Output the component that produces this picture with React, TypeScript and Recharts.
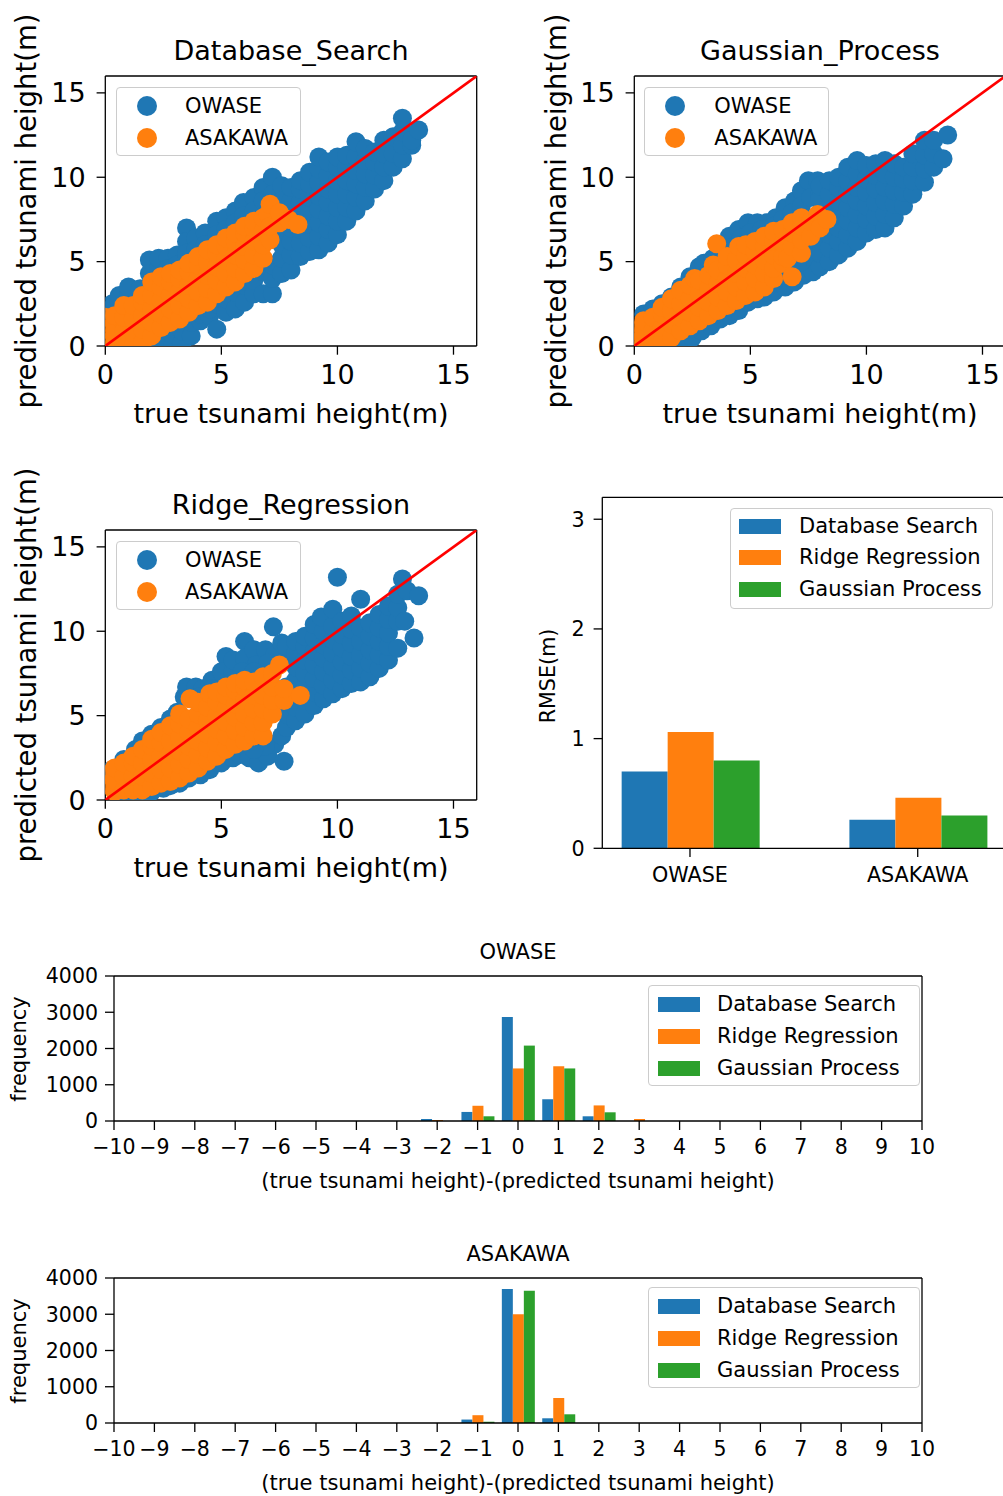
import React from 'react';
import { ScatterChart, Scatter, XAxis, YAxis, BarChart, Bar, ReferenceLine } from 'recharts';

const FONT = '"DejaVu Sans", Verdana, sans-serif';
const BLUE = '#1f77b4';
const ORANGE = '#ff7f0e';
const GREEN = '#2ca02c';

// ---------- scatter data: [true height, predicted height] ----------
const scatterTicks = [0, 5, 10, 15];
const scatterMax = 16;
const diagLine = [[0, 0], [16, 16]];
const scatterSeriesNames = ['OWASE', 'ASAKAWA'];

const dsOwase = [
  [0.1, 2.1], [0.3, 2.5], [0.6, 2.6], [0.6, 3.0], [1.0, 3.0], [1.0, 3.5], [1.5, 3.4], [1.9, 4.3], [1.9, 5.1],
  [2.3, 4.6], [2.3, 5.2], [2.7, 5.2], [2.7, 4.6], [3.1, 5.4], [3.1, 4.8], [3.5, 7.0], [3.5, 6.2], [3.5, 5.5],
  [3.9, 6.4], [3.9, 5.7], [4.3, 6.7], [4.3, 6.0], [4.8, 7.4], [4.8, 6.6], [5.2, 7.6], [5.2, 6.9], [5.6, 8.0],
  [5.6, 7.3], [5.95, 8.5], [5.95, 7.7], [6.4, 8.8], [6.4, 8.0], [6.8, 9.4], [6.8, 8.6], [7.2, 10.0], [7.2, 9.0],
  [7.6, 9.5], [7.6, 8.6],
  [2.1, 0.0], [2.1, 0.3], [2.5, 0.1], [2.5, 0.5], [2.9, 0.0], [2.9, 0.7], [3.3, 0.2], [3.3, 0.9], [3.7, 0.6],
  [3.7, 1.4], [4.1, 1.5], [4.1, 1.9], [4.5, 1.8], [4.5, 2.2], [4.8, 1.0], [4.8, 2.5], [5.2, 2.0], [5.2, 2.8],
  [5.6, 2.2], [5.6, 3.2], [6.0, 2.6], [6.0, 3.6], [6.4, 3.1], [6.4, 3.9], [6.8, 3.1], [6.8, 4.4], [7.2, 3.1],
  [7.2, 4.0], [7.2, 4.8], [7.6, 4.3], [7.6, 5.2], [7.6, 6.0], [7.6, 6.8],
  [8.0, 4.5], [8.0, 5.4], [8.0, 6.2], [8.0, 7.0], [8.0, 7.8], [8.0, 8.6], [8.0, 9.4],
  [8.4, 5.3], [8.4, 6.1], [8.4, 6.9], [8.4, 7.7], [8.4, 8.5], [8.4, 9.3], [8.4, 9.8],
  [8.8, 5.6], [8.8, 6.4], [8.8, 7.2], [8.8, 8.0], [8.8, 8.8], [8.8, 9.6], [8.8, 10.3],
  [9.2, 5.7], [9.2, 6.5], [9.2, 7.3], [9.2, 8.1], [9.2, 8.9], [9.2, 9.7], [9.2, 10.5], [9.2, 11.2],
  [9.6, 6.1], [9.6, 6.9], [9.6, 7.7], [9.6, 8.5], [9.6, 9.3], [9.6, 10.1], [9.6, 10.9],
  [10.0, 6.6], [10.0, 7.4], [10.0, 8.2], [10.0, 9.0], [10.0, 9.8], [10.0, 10.6], [10.0, 11.2],
  [10.4, 7.4], [10.4, 8.2], [10.4, 9.0], [10.4, 9.8], [10.4, 10.6], [10.4, 11.3],
  [10.8, 8.0], [10.8, 8.8], [10.8, 9.6], [10.8, 10.4], [10.8, 11.2], [10.8, 12.1],
  [11.2, 8.6], [11.2, 9.4], [11.2, 10.2], [11.2, 11.0], [11.2, 11.7],
  [11.6, 9.3], [11.6, 10.1], [11.6, 10.9], [11.6, 11.5],
  [12.0, 9.8], [12.0, 10.6], [12.0, 11.4], [12.0, 12.2],
  [12.4, 10.6], [12.4, 11.4], [12.4, 12.4],
  [12.8, 11.1], [12.8, 11.9], [12.8, 12.7], [12.8, 13.5],
  [13.2, 11.9], [13.2, 12.2], [13.5, 12.8],
];

const dsAsakawa = [
  [0.0, 0.2], [0.0, 1.0], [0.0, 1.7], [0.4, 0.1], [0.4, 0.9], [0.4, 1.8],
  [0.8, 0.1], [0.8, 0.9], [0.8, 1.7], [0.8, 2.4], [1.2, 0.0], [1.2, 0.8], [1.2, 1.6], [1.2, 2.4],
  [1.6, 0.2], [1.6, 1.0], [1.6, 1.8], [1.6, 2.6], [1.6, 3.0],
  [2.0, 0.6], [2.0, 1.4], [2.0, 2.2], [2.0, 3.0], [2.0, 3.8],
  [2.4, 1.1], [2.4, 1.9], [2.4, 2.7], [2.4, 3.5], [2.4, 4.1],
  [2.8, 1.4], [2.8, 2.2], [2.8, 3.0], [2.8, 3.8], [2.8, 4.3],
  [3.2, 1.6], [3.2, 2.4], [3.2, 3.2], [3.2, 4.0], [3.2, 4.5],
  [3.6, 2.0], [3.6, 2.8], [3.6, 3.6], [3.6, 4.4], [3.6, 4.9],
  [4.0, 2.4], [4.0, 3.2], [4.0, 4.0], [4.0, 4.8], [4.0, 5.3],
  [4.4, 2.6], [4.4, 3.4], [4.4, 4.2], [4.4, 5.0], [4.4, 5.7],
  [4.8, 3.1], [4.8, 3.9], [4.8, 4.7], [4.8, 5.5], [4.8, 6.0],
  [5.2, 3.5], [5.2, 4.3], [5.2, 5.1], [5.2, 5.9], [5.2, 6.4],
  [5.6, 3.8], [5.6, 4.6], [5.6, 5.4], [5.6, 6.2], [5.6, 6.7],
  [6.0, 4.3], [6.0, 5.1], [6.0, 5.9], [6.0, 6.7], [6.0, 7.1],
  [6.4, 4.6], [6.4, 5.4], [6.4, 6.2], [6.4, 7.0], [6.4, 7.4],
  [6.8, 5.2], [6.8, 6.0], [6.8, 6.8], [6.8, 7.6],
  [7.0, 7.8], [7.1, 6.3], [7.1, 7.1], [7.1, 8.4],
  [7.5, 7.3], [7.5, 7.9], [7.9, 7.5], [8.3, 7.2],
];

const gpOwase = [
  [0.4, 1.9], [0.8, 2.2], [1.2, 2.5], [1.6, 2.9], [2.0, 3.5], [2.4, 4.1], [2.8, 4.7], [3.0, 4.9], [3.4, 5.2],
  [3.8, 6.0], [4.1, 6.5], [4.5, 6.9], [4.9, 7.3], [5.3, 7.3], [5.7, 7.3], [6.1, 7.6], [6.5, 8.2], [6.9, 8.6],
  [7.2, 9.2], [7.5, 9.8], [7.9, 9.8], [4.1, 5.8], [4.6, 6.4], [5.0, 6.7], [5.5, 6.9], [6.0, 7.1], [6.4, 7.5],
  [6.8, 7.9], [7.2, 8.3], [7.6, 8.8], [8.0, 9.0],
  [1.0, 0.3], [1.5, 0.1], [2.0, 0.3], [2.5, 0.5], [2.9, 0.9], [3.3, 1.2], [3.7, 1.6], [4.1, 1.8], [4.5, 2.1],
  [4.9, 2.6], [5.3, 2.8], [5.6, 2.9], [6.0, 3.2], [6.5, 3.5], [6.9, 3.8], [7.3, 4.2], [7.7, 4.4], [2.4, 1.0],
  [3.0, 1.5], [3.5, 1.9], [4.0, 2.3], [4.5, 2.7], [5.0, 3.1], [5.5, 3.4], [6.0, 3.8], [6.4, 4.2], [6.8, 4.7],
  [7.2, 5.0], [7.6, 5.3], [7.6, 6.0], [7.2, 5.8],
  [8.0, 4.7], [8.0, 5.5], [8.0, 6.3], [8.0, 7.1], [8.0, 7.9], [8.0, 8.7], [8.0, 9.5],
  [8.4, 5.0], [8.4, 5.8], [8.4, 6.6], [8.4, 7.4], [8.4, 8.2], [8.4, 9.0], [8.4, 9.8],
  [8.8, 5.4], [8.8, 6.2], [8.8, 7.0], [8.8, 7.8], [8.8, 8.6], [8.8, 9.4], [8.8, 10.0],
  [9.2, 5.8], [9.2, 6.6], [9.2, 7.4], [9.2, 8.2], [9.2, 9.0], [9.2, 9.8], [9.2, 10.6],
  [9.6, 6.2], [9.6, 7.0], [9.6, 7.8], [9.6, 8.6], [9.6, 9.4], [9.6, 10.2], [9.6, 11.0],
  [10.0, 6.7], [10.0, 7.5], [10.0, 8.3], [10.0, 9.1], [10.0, 9.9], [10.0, 10.7],
  [10.4, 6.9], [10.4, 7.7], [10.4, 8.5], [10.4, 9.3], [10.4, 10.1], [10.4, 10.8],
  [10.8, 7.0], [10.8, 7.8], [10.8, 8.6], [10.8, 9.4], [10.8, 10.2], [10.8, 11.0],
  [11.2, 7.6], [11.2, 8.4], [11.2, 9.2], [11.2, 10.0], [11.2, 10.8],
  [11.6, 8.3], [11.6, 9.1], [11.6, 9.9], [11.6, 10.6],
  [12.0, 9.0], [12.0, 9.8], [12.0, 10.6], [12.0, 11.4],
  [12.5, 9.7], [12.5, 10.5], [12.5, 11.3], [12.5, 12.2],
  [12.9, 10.6], [12.9, 11.4], [12.9, 12.2], [13.3, 11.1], [13.5, 12.5],
];

const gpAsakawa = [
  [0.0, 0.2], [0.0, 0.9], [0.4, 0.1], [0.4, 0.9], [0.4, 1.5], [0.8, 0.1], [0.8, 0.9], [0.8, 1.7],
  [1.2, 0.3], [1.2, 1.1], [1.2, 1.9], [1.2, 2.3], [1.6, 0.5], [1.6, 1.3], [1.6, 2.1], [1.6, 2.8],
  [2.0, 0.9], [2.0, 1.7], [2.0, 2.5], [2.0, 3.3], [2.4, 1.2], [2.4, 2.0], [2.4, 2.8], [2.4, 3.6], [2.6, 4.0],
  [2.8, 1.5], [2.8, 2.3], [2.8, 3.1], [2.8, 3.9], [3.2, 1.8], [3.2, 2.6], [3.2, 3.4], [3.2, 4.2], [3.4, 4.8],
  [3.6, 2.1], [3.6, 2.9], [3.6, 3.7], [3.6, 4.5], [3.55, 6.06],
  [4.0, 2.4], [4.0, 3.2], [4.0, 4.0], [4.0, 4.8], [4.0, 5.3],
  [4.4, 2.7], [4.4, 3.5], [4.4, 4.3], [4.4, 5.1], [4.5, 5.9],
  [4.8, 3.0], [4.8, 3.8], [4.8, 4.6], [4.8, 5.4], [4.8, 6.0],
  [5.2, 3.2], [5.2, 4.0], [5.2, 4.8], [5.2, 5.6], [5.2, 6.2],
  [5.6, 3.5], [5.6, 4.3], [5.6, 5.1], [5.6, 5.9], [5.6, 6.5],
  [6.0, 4.0], [6.0, 4.6], [6.0, 5.4], [6.0, 6.2], [6.0, 6.8],
  [6.4, 4.9], [6.4, 5.3], [6.4, 6.1], [6.4, 6.9], [6.6, 5.2], [6.8, 4.1], [6.8, 5.9], [6.8, 6.7], [6.8, 7.3],
  [7.2, 5.5], [7.2, 6.3], [7.2, 7.1], [7.2, 7.6], [7.6, 6.5], [7.6, 7.4], [7.9, 7.8], [8.0, 7.0], [8.3, 7.5],
];

const rrOwase = [
  [0.3, 1.8], [0.8, 2.4], [1.3, 3.0], [1.6, 3.5], [2.0, 3.9], [2.4, 4.3], [2.8, 4.8], [3.1, 5.2], [3.4, 6.1],
  [3.5, 6.7], [3.9, 6.7], [4.2, 6.6], [4.6, 7.1], [5.2, 8.5], [5.0, 7.6], [5.5, 7.6], [5.5, 8.3], [6.0, 9.4],
  [6.0, 8.4], [6.4, 8.9], [6.5, 8.0], [6.9, 8.9], [7.24, 10.26], [7.3, 8.6], [7.6, 9.3], [7.0, 8.1], [4.0, 6.1],
  [4.6, 6.6], [5.9, 7.6], [6.4, 7.6],
  [0.9, 0.0], [1.1, 0.2], [1.5, 0.3], [2.0, 0.5], [2.5, 0.7], [2.8, 0.85], [3.2, 1.0], [3.6, 1.3], [4.1, 1.5],
  [4.5, 1.8], [5.0, 2.2], [5.5, 2.5], [5.8, 2.7], [6.2, 2.5], [6.6, 2.2], [7.0, 2.6], [7.7, 2.3], [7.3, 3.3],
  [7.6, 3.8], [6.9, 3.2], [6.4, 3.0],
  [7.8, 4.3], [7.8, 5.1], [7.8, 5.9], [7.8, 6.7], [7.8, 8.3], [7.8, 9.1],
  [8.2, 4.7], [8.2, 5.5], [8.2, 6.3], [8.2, 7.1], [8.2, 7.9], [8.2, 8.7], [8.2, 9.4],
  [8.6, 5.1], [8.6, 5.9], [8.6, 6.7], [8.6, 7.5], [8.6, 8.3], [8.6, 9.1], [8.6, 9.7],
  [9.0, 5.6], [9.0, 6.4], [9.0, 7.2], [9.0, 8.0], [9.0, 8.8], [9.0, 9.6], [9.0, 10.4],
  [9.4, 6.0], [9.4, 6.8], [9.4, 7.6], [9.4, 8.4], [9.4, 9.2], [9.4, 10.0], [9.3, 10.85],
  [9.8, 6.3], [9.8, 7.1], [9.8, 7.9], [9.8, 8.7], [9.8, 9.5], [9.8, 10.3], [9.8, 11.3], [10.0, 13.2],
  [10.2, 6.6], [10.2, 7.4], [10.2, 8.2], [10.2, 9.0], [10.2, 9.8], [10.2, 10.6],
  [10.6, 6.9], [10.6, 7.7], [10.6, 8.5], [10.6, 9.3], [10.6, 10.1], [10.6, 10.9],
  [11.0, 7.0], [11.0, 7.8], [11.0, 8.6], [11.0, 9.4], [11.0, 10.2], [11.0, 11.9],
  [11.4, 7.3], [11.4, 8.1], [11.4, 8.9], [11.4, 9.7], [11.4, 10.5],
  [11.8, 7.8], [11.8, 8.6], [11.8, 9.4], [11.8, 10.2], [11.8, 11.0],
  [12.2, 8.3], [12.2, 9.1], [12.2, 9.9], [12.2, 10.7], [12.2, 11.5],
  [12.6, 9.0], [12.6, 10.6], [12.6, 11.4], [12.6, 12.2],
  [12.9, 10.6], [12.8, 13.1], [13.0, 12.4], [13.3, 9.6], [13.5, 12.1],
];

const rrAsakawa = [
  [0.0, 0.9], [0.0, 1.5], [0.4, 0.5], [0.4, 1.2], [0.4, 1.9], [0.8, 0.6], [0.8, 1.4], [0.8, 2.2],
  [1.2, 0.6], [1.2, 1.4], [1.2, 2.2], [1.2, 2.6], [1.6, 0.6], [1.6, 1.4], [1.6, 2.2], [1.6, 3.0],
  [2.0, 0.8], [2.0, 1.6], [2.0, 2.4], [2.0, 3.2], [2.0, 3.6],
  [2.4, 1.0], [2.4, 1.8], [2.4, 2.6], [2.4, 3.4], [2.4, 4.0],
  [2.8, 1.1], [2.8, 1.9], [2.8, 2.7], [2.8, 3.5], [2.8, 4.4],
  [3.2, 1.3], [3.2, 2.1], [3.2, 2.9], [3.2, 3.7], [3.2, 4.5], [3.2, 5.1],
  [3.6, 1.6], [3.6, 2.4], [3.6, 3.2], [3.6, 4.0], [3.6, 4.8], [3.65, 6.0],
  [4.0, 1.9], [4.0, 2.7], [4.0, 3.5], [4.0, 4.3], [4.0, 5.1], [4.0, 5.8],
  [4.4, 2.3], [4.4, 3.1], [4.4, 3.9], [4.4, 4.7], [4.4, 5.5], [4.5, 6.3],
  [4.8, 2.6], [4.8, 3.4], [4.8, 4.2], [4.8, 5.0], [4.8, 5.8], [4.8, 6.4],
  [5.2, 3.0], [5.2, 3.8], [5.2, 4.6], [5.2, 5.4], [5.2, 6.2], [5.2, 6.7],
  [5.6, 3.3], [5.6, 4.1], [5.6, 4.9], [5.6, 5.7], [5.6, 6.5], [5.6, 6.9],
  [6.0, 3.5], [6.0, 4.3], [6.0, 5.1], [6.0, 5.9], [6.0, 6.7], [6.0, 7.1],
  [6.4, 3.8], [6.4, 4.6], [6.4, 5.4], [6.4, 6.2], [6.4, 7.0],
  [6.8, 3.8], [6.8, 4.6], [6.8, 5.4], [6.8, 6.2], [6.8, 7.3],
  [7.2, 5.1], [7.2, 5.9], [7.2, 6.7], [7.2, 7.5], [7.5, 8.0], [7.7, 5.9], [7.7, 6.6], [8.4, 6.2],
];

// ---------- RMSE bar chart ----------
const rmseCategories = ['OWASE', 'ASAKAWA'];
const rmseTicks = [0, 1, 2, 3];
const rmseXDomain = [-0.385, 1.385];
const rmseYMax = 3.2;
const methodNames = ['Database Search', 'Ridge Regression', 'Gaussian Process'];
const rmseDatabaseSearch = [0.70, 0.26];
const rmseRidgeRegression = [1.06, 0.46];
const rmseGaussianProcess = [0.80, 0.30];

// ---------- error histograms ----------
const histBins = [-10, -9, -8, -7, -6, -5, -4, -3, -2, -1, 0, 1, 2, 3, 4, 5, 6, 7, 8, 9, 10];
const histYTicks = [0, 1000, 2000, 3000, 4000];
const histYMax = 4000;
const owaseHistDS = [0, 0, 0, 0, 0, 0, 0, 0, 55, 250, 2870, 600, 130, 0, 0, 0, 0, 0, 0, 0, 0];
const owaseHistRR = [0, 0, 0, 0, 0, 0, 0, 0, 28, 420, 1450, 1510, 430, 55, 0, 0, 0, 0, 0, 0, 0];
const owaseHistGP = [0, 0, 0, 0, 0, 0, 0, 0, 0, 130, 2080, 1450, 240, 0, 0, 0, 0, 0, 0, 0, 0];
const asakawaHistDS = [0, 0, 0, 0, 0, 0, 0, 0, 0, 95, 3700, 130, 0, 0, 0, 0, 0, 0, 0, 0, 0];
const asakawaHistRR = [0, 0, 0, 0, 0, 0, 0, 0, 0, 215, 3000, 690, 0, 0, 0, 0, 0, 0, 0, 0, 0];
const asakawaHistGP = [0, 0, 0, 0, 0, 0, 0, 0, 0, 35, 3650, 240, 0, 0, 0, 0, 0, 0, 0, 0, 0];

// ---------- helpers ----------
const toXY = (pts: number[][]) => pts.map(([x, y]) => ({ x, y }));
const axisLine = { stroke: '#000', strokeWidth: 1.3 };
const tickLine = { stroke: '#000', strokeWidth: 1.3 };
const tickStyle = (size: number) => ({ fill: '#000', fontSize: size, fontFamily: FONT });
const minus = (v: number) => (v < 0 ? '\u2212' + Math.abs(v) : String(v));

const dot = (color: string) => (p: any) => <circle cx={p.cx} cy={p.cy} r={9.5} fill={color} />;
const noShape = () => <g />;

function Txt({ x, y, size, rotate, children }: any) {
  return (
    <div
      style={{
        position: 'absolute',
        left: x,
        top: y,
        transform: `translate(-50%, -50%)${rotate ? ' rotate(-90deg)' : ''}`,
        fontFamily: FONT,
        fontSize: size,
        lineHeight: 1,
        whiteSpace: 'nowrap',
        color: '#000',
      }}
    >
      {children}
    </div>
  );
}

function LegendBox({ left, top, width, height, rows, items, kind, markX, textX }: any) {
  return (
    <div>
      <div
        style={{
          position: 'absolute', left, top, width, height, boxSizing: 'border-box',
          border: '1.3px solid #cccccc', borderRadius: 4, background: 'rgba(255,255,255,0.8)',
        }}
      />
      {items.map((it: any, i: number) => (
        <React.Fragment key={it.name}>
          {kind === 'circle' ? (
            <div style={{ position: 'absolute', left: markX - 10, top: rows[i] - 10, width: 20, height: 20, borderRadius: '50%', background: it.color }} />
          ) : (
            <div style={{ position: 'absolute', left: markX, top: rows[i] - 7.5, width: 42, height: 15, background: it.color }} />
          )}
          <div style={{ position: 'absolute', left: textX, top: rows[i], transform: 'translateY(-50%)', fontFamily: FONT, fontSize: 21, lineHeight: 1, whiteSpace: 'nowrap', color: '#000' }}>
            {it.name}
          </div>
        </React.Fragment>
      ))}
    </div>
  );
}

const PLOT_W = 371.4;

function ScatterPanel({ left, top, plotLeft, owase, asakawa }: any) {
  return (
    <div style={{ position: 'absolute', left, top, width: 500, height: 440 }}>
      <ScatterChart width={500} height={440} margin={{ top: 76, right: 500 - plotLeft - PLOT_W, bottom: 0, left: 0 }}>
        <XAxis type="number" dataKey="x" domain={[0, scatterMax]} ticks={scatterTicks} interval={0} allowDataOverflow
          height={94} tickSize={8.7} tickMargin={10} tick={tickStyle(27)} tickLine={tickLine} axisLine={axisLine} />
        <YAxis type="number" dataKey="y" domain={[0, scatterMax]} ticks={scatterTicks} interval={0} allowDataOverflow
          width={plotLeft} tickSize={8.7} tickMargin={11} tick={tickStyle(27)} tickLine={tickLine} axisLine={axisLine} />
        <Scatter data={toXY(owase)} fill={BLUE} shape={dot(BLUE)} isAnimationActive={false} />
        <Scatter data={toXY(asakawa)} fill={ORANGE} shape={dot(ORANGE)} isAnimationActive={false} />
        <Scatter data={toXY(diagLine)} line={{ stroke: '#ff0000', strokeWidth: 2.6 }} shape={noShape} isAnimationActive={false} />
        <ReferenceLine y={scatterMax} stroke="#000" strokeWidth={1.3} />
        <ReferenceLine x={scatterMax} stroke="#000" strokeWidth={1.3} />
      </ScatterChart>
    </div>
  );
}

function HistPanel({ top, ds, rr, gp }: any) {
  const data = histBins.map((b, i) => ({ bin: b, ds: ds[i], rr: rr[i], gp: gp[i] }));
  return (
    <div style={{ position: 'absolute', left: 0, top, width: 1003, height: 270 }}>
      <BarChart width={1003} height={270} data={data} margin={{ top: 46, right: 81, bottom: 0, left: 0 }} barCategoryGap="10%" barGap={0}>
        <XAxis type="number" dataKey="bin" domain={[histBins[0], histBins[histBins.length - 1]]} ticks={histBins} interval={0} allowDataOverflow tickFormatter={minus}
          height={79} tickSize={9} tickMargin={9} tick={tickStyle(20.5)} tickLine={tickLine} axisLine={axisLine} />
        <YAxis type="number" domain={[0, histYMax]} ticks={histYTicks} interval={0} allowDataOverflow
          width={114} tickSize={9} tickMargin={7} tick={tickStyle(20.5)} tickLine={tickLine} axisLine={axisLine} />
        <Bar dataKey="ds" fill={BLUE} isAnimationActive={false} />
        <Bar dataKey="rr" fill={ORANGE} isAnimationActive={false} />
        <Bar dataKey="gp" fill={GREEN} isAnimationActive={false} />
        <ReferenceLine y={histYMax} stroke="#000" strokeWidth={1.3} />
        <ReferenceLine x={histBins[histBins.length - 1]} stroke="#000" strokeWidth={1.3} />
      </BarChart>
    </div>
  );
}

function RmsePanel() {
  const data = rmseCategories.map((c, i) => ({ x: i, ds: rmseDatabaseSearch[i], rr: rmseRidgeRegression[i], gp: rmseGaussianProcess[i] }));
  return (
    <div style={{ position: 'absolute', left: 520, top: 454, width: 500, height: 446 }}>
      <BarChart width={500} height={446} data={data} margin={{ top: 43.3, right: 14.6, bottom: 0, left: 0 }} barCategoryGap="20%" barGap={0}>
        <XAxis type="number" dataKey="x" domain={rmseXDomain} ticks={[0, 1]} interval={0} allowDataOverflow
          tickFormatter={(v: number) => rmseCategories[v]} height={51.7} tickSize={8.7} tickMargin={10}
          tick={tickStyle(20.7)} tickLine={tickLine} axisLine={axisLine} />
        <YAxis type="number" domain={[0, rmseYMax]} ticks={rmseTicks} interval={0} allowDataOverflow
          width={82.3} tickSize={8.7} tickMargin={9} tick={tickStyle(20.7)} tickLine={tickLine} axisLine={axisLine} />
        <Bar dataKey="ds" fill={BLUE} isAnimationActive={false} />
        <Bar dataKey="rr" fill={ORANGE} isAnimationActive={false} />
        <Bar dataKey="gp" fill={GREEN} isAnimationActive={false} />
        <ReferenceLine y={rmseYMax} stroke="#000" strokeWidth={1.3} />
      </BarChart>
    </div>
  );
}

const scatterLegendItems = [
  { name: scatterSeriesNames[0], color: BLUE },
  { name: scatterSeriesNames[1], color: ORANGE },
];
const methodLegendItems = [
  { name: methodNames[0], color: BLUE },
  { name: methodNames[1], color: ORANGE },
  { name: methodNames[2], color: GREEN },
];

export default function App() {
  return (
    <div style={{ position: 'absolute', left: 0, top: 0, width: 1003, height: 1496, overflow: 'hidden', background: '#fff' }}>
      <ScatterPanel left={0} top={0} plotLeft={105.3} owase={dsOwase} asakawa={dsAsakawa} />
      <ScatterPanel left={520} top={0} plotLeft={114.3} owase={gpOwase} asakawa={gpAsakawa} />
      <ScatterPanel left={0} top={454} plotLeft={105.3} owase={rrOwase} asakawa={rrAsakawa} />
      <RmsePanel />
      <HistPanel top={930} ds={owaseHistDS} rr={owaseHistRR} gp={owaseHistGP} />
      <HistPanel top={1232} ds={asakawaHistDS} rr={asakawaHistRR} gp={asakawaHistGP} />

      <Txt x={291} y={50} size={27}>Database_Search</Txt>
      <Txt x={291} y={413} size={27}>true tsunami height(m)</Txt>
      <Txt x={27} y={211} size={27.5} rotate>predicted tsunami height(m)</Txt>

      <Txt x={820} y={50} size={27}>Gaussian_Process</Txt>
      <Txt x={820} y={413} size={27}>true tsunami height(m)</Txt>
      <Txt x={556.7} y={211} size={27.5} rotate>predicted tsunami height(m)</Txt>

      <Txt x={291} y={504} size={27}>Ridge_Regression</Txt>
      <Txt x={291} y={867} size={27}>true tsunami height(m)</Txt>
      <Txt x={27} y={665} size={27.5} rotate>predicted tsunami height(m)</Txt>

      <Txt x={548} y={676} size={20.7} rotate>RMSE(m)</Txt>

      <Txt x={518} y={952} size={21}>OWASE</Txt>
      <Txt x={518} y={1181} size={21}>(true tsunami height)-(predicted tsunami height)</Txt>
      <Txt x={19} y={1049} size={21} rotate>frequency</Txt>

      <Txt x={518} y={1254} size={21}>ASAKAWA</Txt>
      <Txt x={518} y={1483} size={21}>(true tsunami height)-(predicted tsunami height)</Txt>
      <Txt x={19} y={1351} size={21} rotate>frequency</Txt>

      <LegendBox left={116} top={87} width={185} height={69} rows={[106, 138.3]} items={scatterLegendItems} kind="circle" markX={146.7} textX={185} />
      <LegendBox left={644.3} top={87} width={185} height={69} rows={[106, 138.3]} items={scatterLegendItems} kind="circle" markX={675} textX={714.3} />
      <LegendBox left={116} top={541} width={185} height={69} rows={[560, 592.3]} items={scatterLegendItems} kind="circle" markX={146.7} textX={185} />

      <LegendBox left={730} top={508} width={263} height={101} rows={[526, 557.3, 589.3]} items={methodLegendItems} kind="patch" markX={739} textX={799} />
      <LegendBox left={648} top={985} width={272} height={101} rows={[1004, 1036, 1068]} items={methodLegendItems} kind="patch" markX={657.5} textX={717} />
      <LegendBox left={648} top={1287} width={272} height={101} rows={[1306, 1338, 1370]} items={methodLegendItems} kind="patch" markX={657.5} textX={717} />
    </div>
  );
}
